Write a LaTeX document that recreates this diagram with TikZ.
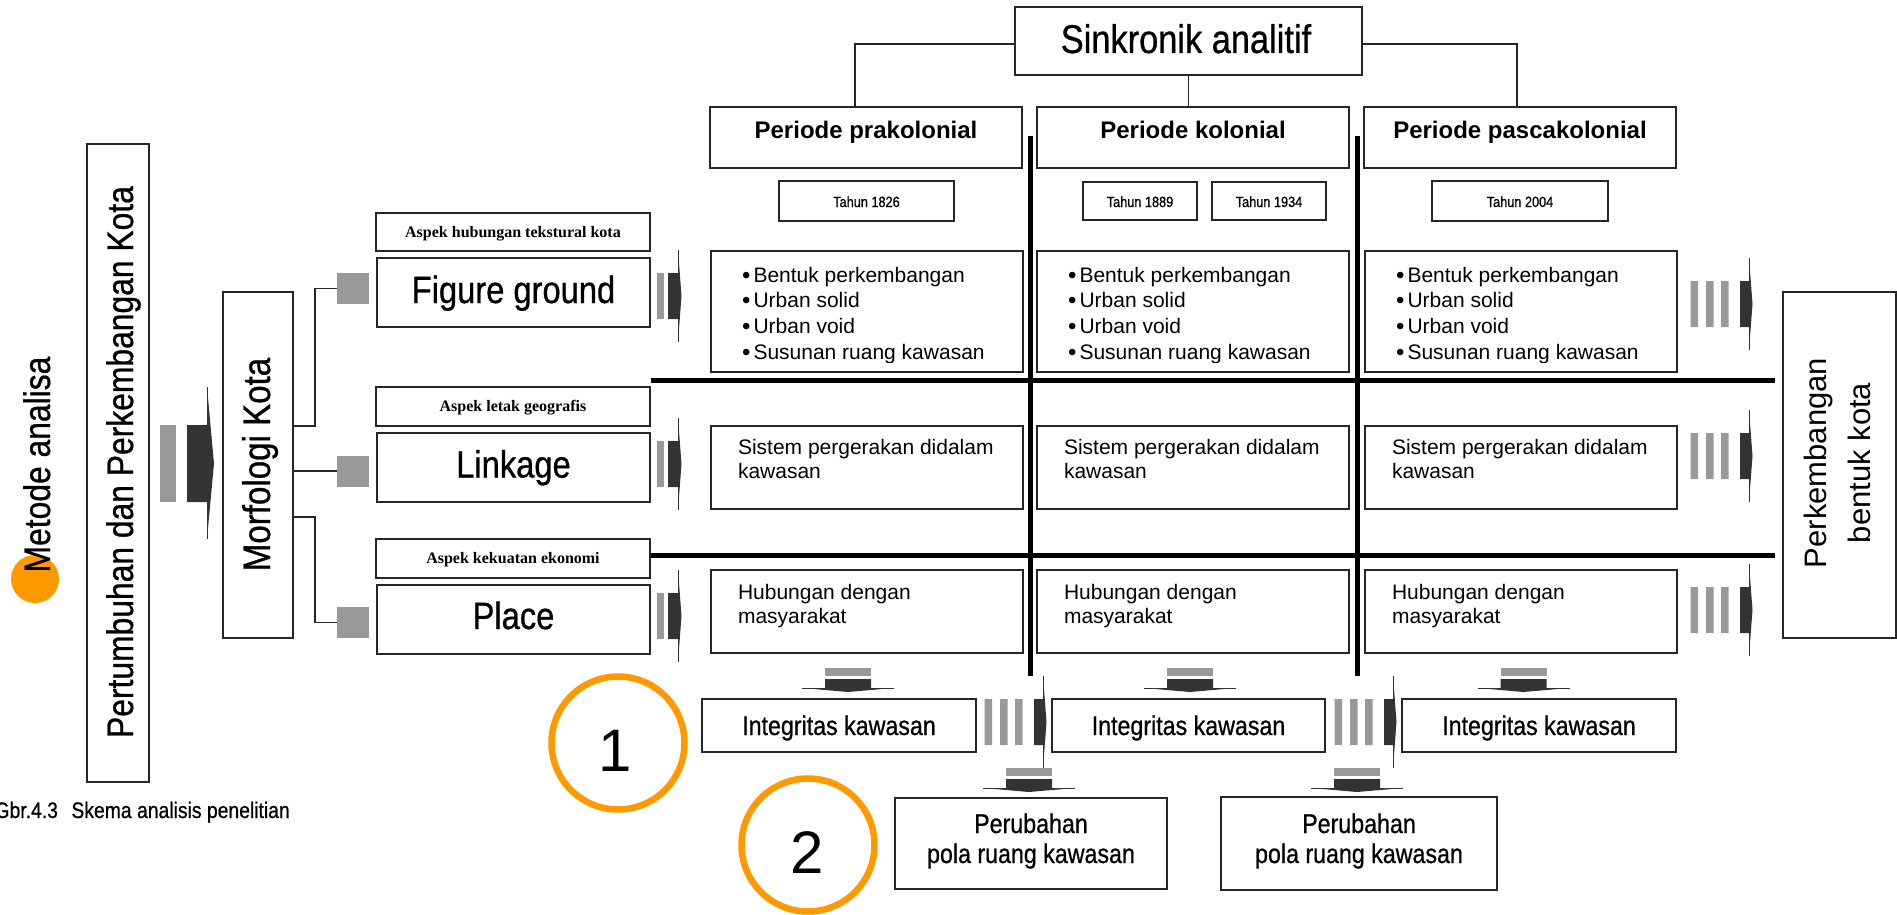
\documentclass[tikz,border=0pt]{standalone}
\usepackage{fontspec}
\setmainfont{Liberation Sans}
\newfontfamily\narrowsans[FakeStretch=0.86,FakeBold=0.7]{Liberation Sans}
\newfontfamily\serifbold{Liberation Serif}
\newcommand\fsz[1]{\fontsize{#1}{#1}\selectfont}
\definecolor{accent}{HTML}{FF9900}
\definecolor{barlight}{HTML}{999999}
\definecolor{bardark}{HTML}{333333}

\tikzset{
  box/.style={draw=black!85, line width=1.2pt, inner sep=0pt, outer sep=0pt, rectangle},
  wh/.style 2 args={minimum width=#1, minimum height=#2},
  link/.style={draw=black!85, line width=1.2pt},
  grid/.style={draw=black, line width=5pt},
  txt/.style={inner sep=0pt, outer sep=0pt, anchor=base},
  vtxt/.style={inner sep=0pt, outer sep=0pt, anchor=base, rotate=90},
  bodytext/.style={inner sep=0pt, outer sep=0pt, anchor=base west, font=\fsz{21}},
  sq/.style={fill=barlight, minimum width=32, minimum height=31, inner sep=0pt},
  % short arrow: one light bar, dark bar and a flat head
  rarr/.pic={
    \fill[barlight] (-21,-23) rectangle (-14,23);
    \fill[bardark] (-10,-23) -- (0,-23) -- (0,-46) -- (3.5,0) -- (0,46) -- (0,23) -- (-10,23) -- cycle;
    \draw[bardark, line width=1pt] (0,-46) -- (0,46);
  },
  % long arrow: three light bars, dark bar and a flat head
  rarrr/.pic={
    \fill[barlight] (-58.5,-23) rectangle (-51,23) (-43,-23) rectangle (-35.5,23) (-28,-23) rectangle (-20.5,23);
    \fill[bardark] (-9,-23) -- (0,-23) -- (0,-46) -- (3.5,0) -- (0,46) -- (0,23) -- (-9,23) -- cycle;
    \draw[bardark, line width=1pt] (0,-46) -- (0,46);
  },
  % downward arrow
  darr/.pic={
    \fill[barlight] (-23,-20.5) rectangle (23,-12.5);
    \fill[bardark] (-23,-9) -- (23,-9) -- (23,0) -- (46,0) -- (0,4) -- (-46,0) -- (-23,0) -- cycle;
    \draw[bardark, line width=1pt] (-46,0) -- (46,0);
  }
}

\begin{document}
\begin{tikzpicture}[x=1pt, y=-1pt]
\fill[white] (0,0) rectangle (1897,915);
\useasboundingbox (0,0) rectangle (1897,915);

% ---------- left part ----------
\node[circle, fill=accent, inner sep=0pt, minimum size=48] (dot) at (35,579) {};
\node[vtxt, font=\narrowsans\fsz{37}] (method) at (50,464.5) {Metode analisa};

\node[box, wh={62}{638}] (growth) at (118,463) {};
\node[vtxt, font=\narrowsans\fsz{37}] (growthlabel) at (133,462) {Pertumbuhan dan Perkembangan Kota};

\fill[barlight] (160,425) rectangle (176,502);
\fill[bardark] (187,425) -- (207,425) -- (207,387) -- (214,463.5) -- (207,539) -- (207,502) -- (187,502) -- cycle;
\draw[bardark, line width=1pt] (207,387) -- (207,539);

\node[box, wh={70}{346}] (morph) at (258,465) {};
\node[vtxt, font=\narrowsans\fsz{38.5}] (morphlabel) at (270,464.5) {Morfologi Kota};

\node[sq] (sq1) at (353,288.5) {};
\node[sq] (sq2) at (353,471) {};
\node[sq] (sq3) at (353,622.5) {};
\coordinate (j1) at (315,426);
\coordinate (j3) at (315,517);
\draw[link] (morph.east |- j1) -- (j1) |- (sq1.west);
\draw[link] (morph.east |- sq2.west) -- (sq2.west);
\draw[link] (morph.east |- j3) -- (j3) |- (sq3.west);

% aspect captions and the three elements
\node[box, wh={274}{38}] (asp1) at (513,232) {};
\node[txt, font=\serifbold\bfseries\fsz{16}] (asp1t) at (513,237) {Aspek hubungan tekstural kota};
\node[box, wh={274}{39}] (asp2) at (513,406.5) {};
\node[txt, font=\serifbold\bfseries\fsz{16}] (asp2t) at (513,411.5) {Aspek letak geografis};
\node[box, wh={274}{39}] (asp3) at (513,558.5) {};
\node[txt, font=\serifbold\bfseries\fsz{16}] (asp3t) at (513,563.5) {Aspek kekuatan ekonomi};

\node[box, wh={273}{69}] (fg) at (513.5,292.5) {};
\node[txt, font=\narrowsans\fsz{38}] (fgt) at (513.5,303) {Figure ground};
\node[box, wh={273}{69}] (lk) at (513.5,467.5) {};
\node[txt, font=\narrowsans\fsz{38}] (lkt) at (513.5,477.5) {Linkage};
\node[box, wh={273}{69}] (pl) at (513.5,619.5) {};
\node[txt, font=\narrowsans\fsz{38}] (plt) at (513.5,629) {Place};

\pic at (678,296) {rarr};
\pic at (678,464) {rarr};
\pic at (678,616) {rarr};

% ---------- top: periods ----------
\node[box, wh={347}{68}] (sink) at (1188.5,41) {};
\node[txt, font=\narrowsans\fsz{40}] (sinkt) at (1186,53) {Sinkronik analitif};

\node[box, wh={312}{61}] (per1) at (866,137.5) {};
\node[box, wh={312}{61}] (per2) at (1193,137.5) {};
\node[box, wh={312}{61}] (per3) at (1520,137.5) {};
\node[txt, font=\bfseries\fsz{24}] (per1t) at (866,139) {Periode prakolonial};
\node[txt, font=\bfseries\fsz{24}] (per2t) at (1193,139) {Periode kolonial};
\node[txt, font=\bfseries\fsz{24}] (per3t) at (1520,139) {Periode pascakolonial};

\coordinate (tl) at (855,44);
\coordinate (tr) at (1517,44);
\draw[link] (sink.west |- tl) -- (tl) -- (tl |- per1.north);
\draw[link] (sink.east |- tr) -- (tr) -- (tr |- per3.north);
\draw[link] (sink.south) -- (sink.south |- per2.north);

\node[box, wh={175}{40}] (y1) at (866.5,201) {};
\node[box, wh={114}{38}] (y2) at (1140,201) {};
\node[box, wh={114}{38}] (y3) at (1269,201) {};
\node[box, wh={176}{40}] (y4) at (1520,201) {};
\node[txt, font=\narrowsans\fsz{14.8}] (y1t) at (866.5,207) {Tahun 1826};
\node[txt, font=\narrowsans\fsz{14.8}] (y2t) at (1140,207) {Tahun 1889};
\node[txt, font=\narrowsans\fsz{14.8}] (y3t) at (1269,207) {Tahun 1934};
\node[txt, font=\narrowsans\fsz{14.8}] (y4t) at (1520,207) {Tahun 2004};

% ---------- content grid ----------
\foreach \cx/\k in {711/1, 1037/2, 1365/3} {
  \node[box, wh={312}{121}, anchor=north west] (ra\k) at (\cx,251) {};
  \node[box, wh={312}{83}, anchor=north west] (rb\k) at (\cx,426) {};
  \node[box, wh={312}{83}, anchor=north west] (rc\k) at (\cx,570) {};
  \begin{scope}
    \clip (\cx,251) rectangle (\cx+312,362.5);
    \foreach \t [count=\j from 0] in {Bentuk perkembangan, Urban solid, Urban void, Susunan ruang kawasan}
      \node[bodytext] (li\k\j) at (\cx+31,282+25.7*\j) {\makebox[11.5pt][l]{\raisebox{-1pt}{\fsz{24}•}}\t};
  \end{scope}
  \node[bodytext] (sa\k) at (\cx+27,454) {Sistem pergerakan didalam};
  \node[bodytext] (sb\k) at (\cx+27,478) {kawasan};
  \node[bodytext] (ha\k) at (\cx+27,599) {Hubungan dengan};
  \node[bodytext] (hb\k) at (\cx+27,623) {masyarakat};
}

\draw[grid] (651,380) -- (1775,380);
\draw[grid] (651,555) -- (1775,555);
\draw[grid] (1030,136) -- (1030,676);
\draw[grid] (1357,136) -- (1357,676);

% ---------- right part ----------
\pic at (1749,304) {rarrr};
\pic at (1749,456) {rarrr};
\pic at (1749,610) {rarrr};
\node[box, wh={113}{346}] (dev) at (1839.5,465) {};
\node[vtxt, font=\fsz{31}] (dev1) at (1826,463) {Perkembangan};
\node[vtxt, font=\fsz{31}] (dev2) at (1870,463) {bentuk kota};

% ---------- bottom: integrity and change ----------
\pic at (848,688) {darr};
\pic at (1190,688) {darr};
\pic at (1523.5,688) {darr};
\node[box, wh={274}{53}] (int1) at (839,725.5) {};
\node[box, wh={273}{53}] (int2) at (1188.5,725.5) {};
\node[box, wh={274}{53}] (int3) at (1539,725.5) {};
\node[txt, font=\narrowsans\fsz{27}] (int1t) at (839,735) {Integritas kawasan};
\node[txt, font=\narrowsans\fsz{27}] (int2t) at (1188.5,735) {Integritas kawasan};
\node[txt, font=\narrowsans\fsz{27}] (int3t) at (1539,735) {Integritas kawasan};
\pic at (1043,722) {rarrr};
\pic at (1393,722) {rarrr};

\pic at (1029,788) {darr};
\pic at (1357,788) {darr};
\node[box, wh={272}{91}] (chg1) at (1031,843.5) {};
\node[box, wh={276}{93}] (chg2) at (1359,843.5) {};
\node[txt, font=\narrowsans\fsz{27}] (chg1a) at (1031,833) {Perubahan};
\node[txt, font=\narrowsans\fsz{27}] (chg1b) at (1031,863) {pola ruang kawasan};
\node[txt, font=\narrowsans\fsz{27}] (chg2a) at (1359,833) {Perubahan};
\node[txt, font=\narrowsans\fsz{27}] (chg2b) at (1359,863) {pola ruang kawasan};

\node[circle, draw=accent, line width=6.5pt, minimum size=133, inner sep=0pt] (n1) at (618,743) {};
\node[txt, font=\fsz{60}] (n1t) at (615,771) {1};
\node[circle, draw=accent, line width=6.5pt, minimum size=133, inner sep=0pt] (n2) at (808,845) {};
\node[txt, font=\fsz{60}] (n2t) at (807.5,873) {2};

\node[inner sep=0pt, anchor=base east, font=\narrowsans\fsz{22.5}] (caption) at (290,818) {Gbr.4.3\hspace{0.6em}Skema analisis penelitian};
\end{tikzpicture}
\end{document}
